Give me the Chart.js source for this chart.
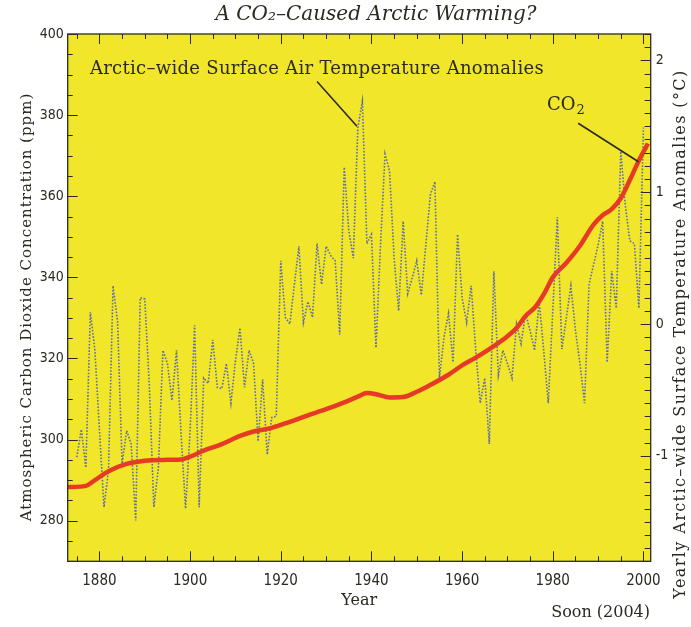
<!DOCTYPE html>
<html>
<head>
<meta charset="utf-8">
<script src="https://cdn.jsdelivr.net/npm/chart.js@4.4.0/dist/chart.umd.min.js"></script>
<style>
  html, body { margin: 0; padding: 0; background: #ffffff; }
  #c { display: block; }
</style>
</head>
<body>
<canvas id="c" width="691" height="627"></canvas>
<script>
// Atmospheric CO2 concentration (ppm)
const co2Years = [1873, 1877, 1879, 1882, 1886, 1890, 1894, 1898, 1900, 1903, 1907, 1911, 1914, 1918,
  1922, 1926, 1930, 1934, 1937, 1939, 1941, 1944, 1947, 1950, 1953, 1957, 1960, 1963, 1966, 1969,
  1972, 1974, 1976, 1978, 1980, 1983, 1986, 1989, 1991, 1993, 1995, 1997, 1999, 2001];
const co2Values = [288.3, 288.6, 290.0, 292.2, 294.0, 294.8, 295.0, 295.1, 295.8, 297.3, 298.9, 300.9, 302.0, 302.9,
  304.4, 306.0, 307.5, 309.2, 310.6, 311.5, 311.2, 310.4, 310.5, 311.8, 313.5, 316.0, 318.3, 320.2, 322.3, 324.6,
  327.5, 330.5, 332.5, 335.8, 340.0, 343.6, 347.8, 353.0, 355.3, 356.8, 359.5, 364.0, 368.8, 373.0];

// Yearly Arctic-wide surface air temperature anomalies (deg C), one value per year from the first year on
const tempFirstYear = 1875;
const tempValues = [
  -1.01, -0.80, -1.09, 0.09, -0.20, -0.80, -1.39, -1.11, 0.29, 0.02,   // 1875-1884
  -1.06, -0.81, -0.91, -1.49, 0.20, 0.19, -0.46, -1.39, -1.09, -0.20,  // 1885-1894
  -0.30, -0.58, -0.20, -0.83, -1.40, -0.81, -0.01, -1.39, -0.41, -0.45, // 1895-1904
  -0.12, -0.48, -0.49, -0.30, -0.60, -0.28, -0.03, -0.48, -0.20, -0.30, // 1905-1914
  -0.89, -0.42, -0.99, -0.71, -0.70, 0.48, 0.05, 0.00, 0.30, 0.59,     // 1915-1924
  0.01, 0.17, 0.05, 0.61, 0.30, 0.59, 0.52, 0.48, -0.08, 1.19,         // 1925-1934
  0.71, 0.50, 1.49, 1.69, 0.61, 0.68, -0.18, 0.60, 1.29, 1.16,         // 1935-1944
  0.50, 0.10, 0.78, 0.23, 0.35, 0.48, 0.22, 0.60, 0.98, 1.08,          // 1945-1954
  -0.41, -0.10, 0.08, -0.29, 0.68, 0.20, 0.01, 0.29, -0.20, -0.60,     // 1955-1964
  -0.41, -0.91, 0.40, -0.39, -0.20, -0.30, -0.41, 0.00, -0.15, 0.08,   // 1965-1974
  -0.05, -0.20, 0.17, -0.20, -0.60, 0.10, 0.81, -0.19, 0.05, 0.29,     // 1975-1984
  -0.05, -0.30, -0.60, 0.30, 0.45, 0.60, 0.78, -0.29, 0.40, 0.12,      // 1985-1994
  1.31, 0.90, 0.63, 0.61, 0.12, 1.49                                   // 1995-2000
];

// Tick labels
const yearTicks = [1880, 1900, 1920, 1940, 1960, 1980, 2000];
const co2Ticks = [280, 300, 320, 340, 360, 380, 400];
const tempTicks = [-1, 0, 1, 2];

const YELLOW = '#f2e62a';
const INK = '#2a2a22';
const SERIF = "'DejaVu Serif', 'Liberation Serif', serif";
const NUMFONT = "'DejaVu Sans Condensed', 'Liberation Sans Narrow', 'DejaVu Sans', sans-serif";

const tempPoints = tempValues.map((v, i) => ({ x: tempFirstYear + i, y: v }));
const co2Points = co2Years.map((yr, i) => ({ x: yr, y: co2Values[i] }));

function rotatedText(ctx, text, cx, cy) {
  ctx.save();
  ctx.translate(cx, cy);
  ctx.rotate(-Math.PI / 2);
  ctx.fillText(text, 0, 0);
  ctx.restore();
}

// Background, frame, inward tick marks, titles and labelled leaders
const decorations = {
  id: 'decorations',
  beforeDraw(chart) {
    const { ctx, chartArea: a } = chart;
    ctx.save();
    ctx.fillStyle = '#ffffff';
    ctx.fillRect(0, 0, chart.width, chart.height);
    ctx.fillStyle = YELLOW;
    ctx.fillRect(a.left, a.top, a.right - a.left, a.bottom - a.top);
    ctx.restore();
  },
  afterDatasetsDraw(chart) {
    const { ctx, chartArea: a, scales } = chart;
    const x = scales.x, yC = scales.yC, yT = scales.yT;
    ctx.save();
    ctx.strokeStyle = INK;
    ctx.lineWidth = 1;

    // year ticks, bottom and top edges
    ctx.beginPath();
    for (let yr = 1875; yr <= 2000; yr += 5) {
      const px = Math.round(x.getPixelForValue(yr)) + 0.5;
      const len = yr % 20 === 0 ? 10 : 5;
      ctx.moveTo(px, a.bottom); ctx.lineTo(px, a.bottom - len);
      ctx.moveTo(px, a.top); ctx.lineTo(px, a.top + len);
    }
    // CO2 ticks on the left edge
    for (let p = 270; p <= 400; p += 5) {
      const py = Math.round(yC.getPixelForValue(p)) + 0.5;
      const len = p % 20 === 0 ? 10 : 5;
      ctx.moveTo(a.left, py); ctx.lineTo(a.left + len, py);
    }
    // temperature ticks on the right edge
    for (let k = -18; k <= 22; k++) {
      const py = Math.round(yT.getPixelForValue(k / 10)) + 0.5;
      const len = k % 10 === 0 ? 10 : 6;
      ctx.moveTo(a.right, py); ctx.lineTo(a.right - len, py);
    }
    ctx.stroke();

    // frame
    ctx.lineWidth = 1.3;
    ctx.strokeRect(a.left, a.top, a.right - a.left, a.bottom - a.top);

    // leader for the temperature series
    ctx.lineWidth = 1.6;
    ctx.beginPath();
    ctx.moveTo(x.getPixelForValue(1928.0), yT.getPixelForValue(1.84));
    ctx.lineTo(x.getPixelForValue(1936.8), yT.getPixelForValue(1.50));
    // leader for the CO2 curve
    ctx.moveTo(x.getPixelForValue(1985.6), yC.getPixelForValue(378.0));
    ctx.lineTo(x.getPixelForValue(1998.9), yC.getPixelForValue(368.5));
    ctx.stroke();

    ctx.fillStyle = INK;
    ctx.textBaseline = 'middle';
    ctx.textAlign = 'left';
    ctx.font = `18px ${SERIF}`;
    ctx.letterSpacing = '0.3px';
    ctx.fillText('Arctic\u2013wide Surface Air Temperature Anomalies',
      x.getPixelForValue(1877.9), yT.getPixelForValue(1.93));
    ctx.letterSpacing = '0px';

    const cx = x.getPixelForValue(1978.7), cy = yC.getPixelForValue(382.3);
    ctx.fillText('CO', cx, cy);
    const w = ctx.measureText('CO').width;
    ctx.font = `13px ${SERIF}`;
    ctx.fillText('2', cx + w + 1, cy + 5);

    // chart title
    ctx.font = `italic 20px ${SERIF}`;
    ctx.textAlign = 'center';
    ctx.fillText('A CO\u2082\u2013Caused Arctic Warming?', 376, 15);

    // axis titles
    ctx.font = `15px ${SERIF}`;
    ctx.letterSpacing = '1px';
    rotatedText(ctx, 'Atmospheric Carbon Dioxide Concentration (ppm)', 27, 307);

    ctx.font = `16px ${SERIF}`;
    ctx.letterSpacing = '1.4px';
    rotatedText(ctx, 'Yearly Arctic\u2013wide Surface Temperature Anomalies (\u00b0C)', 681, 334);
    ctx.letterSpacing = '0px';

    // attribution
    ctx.font = `16px ${SERIF}`;
    ctx.textAlign = 'right';
    ctx.fillText('Soon (2004)', 650, 613);
    ctx.restore();
  }
};

new Chart(document.getElementById('c'), {
  type: 'line',
  data: {
    datasets: [
      {
        label: 'CO2',
        data: co2Points,
        yAxisID: 'yC',
        borderColor: '#e63a27',
        borderWidth: 4.5,
        pointRadius: 0,
        cubicInterpolationMode: 'monotone',
        order: 0
      },
      {
        label: 'Arctic temperature anomaly',
        data: tempPoints,
        yAxisID: 'yT',
        borderColor: '#5d6ea6',
        borderWidth: 1.6,
        borderDash: [1.6, 1.6],
        pointRadius: 0,
        tension: 0,
        order: 1
      }
    ]
  },
  options: {
    responsive: false,
    animation: false,
    devicePixelRatio: 1,
    layout: { padding: { top: 34, left: 0, right: 0, bottom: 0 } },
    plugins: {
      legend: { display: false },
      tooltip: { enabled: false },
      title: { display: false }
    },
    scales: {
      x: {
        type: 'linear',
        min: 1873,
        max: 2001.6,
        afterBuildTicks: s => { s.ticks = yearTicks.map(v => ({ value: v })); },
        afterFit: s => { s.height = 65.7; },
        grid: { display: false, drawTicks: false, tickLength: 0 },
        border: { display: false },
        ticks: {
          autoSkip: false, maxRotation: 0, padding: 11,
          color: INK, font: { family: NUMFONT, size: 15 },
          callback: v => String(v)
        },
        title: {
          display: true, text: 'Year', color: INK,
          font: { family: SERIF, size: 16 },
          padding: { top: 0, bottom: 17 }
        }
      },
      yC: {
        type: 'linear',
        position: 'left',
        min: 270,
        max: 400,
        afterBuildTicks: s => { s.ticks = co2Ticks.map(v => ({ value: v })); },
        afterFit: s => { s.width = 67.7; },
        grid: { display: false, drawTicks: false, tickLength: 0 },
        border: { display: false },
        ticks: { padding: 4, color: INK, font: { family: NUMFONT, size: 14 } }
      },
      yT: {
        type: 'linear',
        position: 'right',
        min: -1.8,
        max: 2.2,
        afterBuildTicks: s => { s.ticks = tempTicks.map(v => ({ value: v })); },
        afterFit: s => { s.width = 40.3; },
        grid: { display: false, drawTicks: false, tickLength: 0 },
        border: { display: false },
        ticks: { padding: 5, color: INK, font: { family: NUMFONT, size: 14 } }
      }
    }
  },
  plugins: [decorations]
});
</script>
</body>
</html>
